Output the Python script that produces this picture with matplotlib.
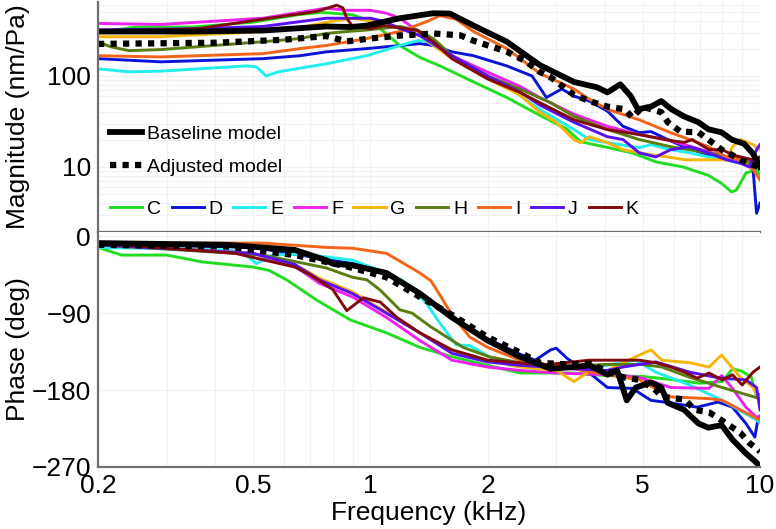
import matplotlib
matplotlib.use('Agg')
import matplotlib.pyplot as plt
from matplotlib.ticker import FixedLocator, NullFormatter, LogLocator

plt.rcParams['font.family'] = ['Liberation Sans', 'DejaVu Sans']

# ---- magnitude (nm/Pa) vs frequency (kHz) ----
base_mag_f = [0.2, 0.35, 0.53, 0.77, 0.89, 0.98, 1.19, 1.45, 1.6, 1.84, 2.24, 2.72, 3.33, 3.82, 4.06,
              4.38, 4.66, 4.86, 5.25, 5.58, 5.93, 6.38, 6.95, 7.37, 7.97, 8.46, 9.1, 9.6, 10]
base_mag = [308, 308, 316, 350, 345, 358, 431, 489, 485, 358, 238, 132, 86, 75, 66,
            81, 60, 43, 46, 53, 43, 36, 31, 26, 24, 20, 18, 14, 10]

adj_mag_f = [0.2, 0.4, 0.6, 0.77, 0.87, 1.0, 1.19, 1.45, 1.7, 1.84, 2.24, 2.5, 2.72, 2.9, 3.33, 3.65,
             4.06, 4.5, 4.7, 5.0, 5.58, 5.8, 6.25, 6.95, 7.37, 7.97, 8.46, 8.9, 9.6, 10]
adj_mag = [225, 232, 250, 275, 240, 258, 278, 293, 280, 244, 185, 146, 111, 97, 62, 53,
           46, 43, 35, 46, 40, 31, 24.5, 24, 20, 15.5, 13.6, 12, 10.5, 10]

c_mag_f = [0.2, 0.25, 0.35, 0.5, 0.65, 0.75, 0.9, 1.0, 1.08, 1.19, 1.34, 1.51, 1.84, 2.24, 2.72, 3.2,
           3.46, 3.9, 4.7, 5.4, 6.35, 7.37, 7.97, 8.46, 8.7, 9.0, 9.2, 9.8, 10]
c_mag = [300, 345, 345, 390, 470, 500, 470, 400, 310, 216, 160, 129, 86, 58, 37, 26,
         19, 17, 14.3, 11.4, 10, 8.1, 6.6, 5.3, 5.6, 7.2, 8.6, 9.3, 8.1]

d_mag_f = [0.2, 0.29, 0.53, 0.66, 0.77, 0.98, 1.19, 1.34, 1.45, 1.62, 1.84, 2.24, 2.6, 2.83, 3.1, 3.33,
           3.65, 4.06, 4.45, 4.9, 5.25, 5.8, 6.38, 7.1, 7.6, 8.2, 8.9, 9.2, 9.6, 9.8, 10]
d_mag = [155, 143, 155, 167, 184, 200, 216, 227, 216, 184, 167, 129, 100, 58, 72, 60,
         53, 41, 28, 23.8, 24.5, 20, 16.7, 14.3, 12.9, 12, 12.9, 12, 9.3, 3.1, 4]

e_mag_f = [0.2, 0.24, 0.29, 0.48, 0.51, 0.54, 0.58, 0.77, 0.98, 1.19, 1.32, 1.4, 1.57, 1.66, 1.84, 2.24,
           2.72, 3.33, 3.65, 4.06, 4.9, 5.25, 5.9, 6.6, 7.37, 8.2, 8.9, 9.6, 10]
e_mag = [120, 111, 113, 129, 126, 100, 111, 136, 167, 216, 244, 240, 176, 155, 120, 77,
         43, 25.8, 20, 18.5, 16.3, 17.6, 15.5, 14.3, 12.9, 12, 11, 11, 12]

f_mag_f = [0.2, 0.29, 0.53, 0.77, 0.87, 1.0, 1.1, 1.19, 1.34, 1.62, 2.0, 2.42, 2.72, 3.33, 4.06, 4.9,
           5.9, 7.37, 8.2, 8.9, 9.6, 10]
f_mag = [378, 368, 431, 556, 527, 527, 489, 431, 300, 167, 110, 77, 58, 38, 28, 22.7,
         19.5, 14.7, 12.9, 12, 12, 12.6]

g_mag_f = [0.2, 0.29, 0.53, 0.66, 0.8, 0.9, 1.1, 1.34, 1.62, 2.0, 2.42, 2.72, 3.0, 3.33, 3.46, 3.65,
           4.06, 4.45, 5.25, 5.8, 6.4, 7.4, 8.2, 8.5, 8.9, 9.2, 9.6, 10]
g_mag = [270, 270, 308, 340, 400, 431, 378, 278, 155, 93, 62, 40, 31, 20, 18.5, 21.5,
         18.5, 15.5, 13.6, 12.9, 12, 12, 12, 16.7, 20, 19, 17.6, 15.5]

h_mag_f = [0.2, 0.215, 0.24, 0.29, 0.53, 0.66, 0.77, 0.87, 0.98, 1.19, 1.32, 1.45, 1.62, 2.0, 2.42,
           2.9, 3.33, 4.06, 4.9, 5.9, 7.37, 8.9, 9.6, 10]
h_mag = [238, 210, 190, 195, 238, 258, 293, 308, 320, 350, 320, 258, 167, 100, 72,
         51, 36, 25.8, 20, 16.7, 14.3, 12, 11, 12]

i_mag_f = [0.2, 0.29, 0.53, 0.66, 0.77, 0.98, 1.19, 1.4, 1.51, 1.66, 1.84, 2.24, 2.72, 3.33, 3.65,
           4.06, 4.9, 5.9, 6.6, 7.37, 8.2, 8.9, 9.6, 10]
i_mag = [167, 162, 176, 200, 216, 258, 308, 398, 460, 420, 308, 200, 107, 72, 55.5,
         43, 33, 23.8, 20, 16.7, 12.9, 12, 9.3, 7.2]

j_mag_f = [0.2, 0.35, 0.53, 0.77, 0.9, 1.0, 1.08, 1.19, 1.34, 1.62, 2.0, 2.42, 2.72, 3.33, 4.06,
           4.45, 4.9, 5.4, 5.9, 6.6, 7.37, 8.2, 8.9, 9.4, 9.8, 10]
j_mag = [320, 330, 350, 431, 431, 431, 400, 333, 278, 167, 100, 67, 48, 31, 21.5,
         20, 14.3, 12.9, 15.5, 16.7, 14.3, 12, 11, 10, 15.5, 17.6]

k_mag_f = [0.2, 0.36, 0.55, 0.73, 0.82, 0.85, 0.87, 0.9, 1.0, 1.08, 1.32, 1.45, 1.62, 2.0, 2.42,
           2.72, 3.33, 4.06, 4.9, 5.9, 6.4, 6.7, 7.4, 8.0, 8.5, 8.9, 9.6, 10]
k_mag = [308, 330, 431, 513, 600, 560, 431, 350, 330, 358, 317, 238, 155, 93, 66,
         51, 33, 25.8, 22.7, 19.5, 18.6, 20, 15.5, 15.5, 13.6, 12.9, 12, 12.9]

# ---- phase (deg) vs frequency (kHz) ----
base_ph_f = [0.2, 0.43, 0.64, 0.77, 0.8, 0.9, 1.1, 1.34, 1.62, 2.0, 2.42, 2.72, 2.9, 3.33, 3.65, 4.06,
             4.3, 4.55, 4.8, 5.25, 5.58, 5.8, 6.38, 6.95, 7.37, 7.97, 8.5, 9.2, 9.8, 10]
base_ph = [-8, -10, -16, -28, -32, -34, -43, -67, -95, -122, -141, -150, -155, -153, -151, -162,
           -157, -192, -177, -171, -177, -195, -203, -219, -224, -221, -238, -254, -265, -270]

adj_ph_f = [0.2, 0.43, 0.64, 0.77, 0.9, 1.1, 1.34, 1.62, 2.0, 2.42, 2.72, 3.2, 3.65, 4.06, 4.45,
            4.9, 5.4, 5.6, 6.4, 6.8, 7.4, 8.2, 8.9, 9.4, 9.9, 10]
adj_ph = [-10, -12, -22, -30, -37, -48, -71, -92, -118, -136, -148, -150, -149, -158, -165,
          -168, -180, -188, -191, -203, -206, -219, -230, -242, -250, -252]

c_ph_f = [0.2, 0.23, 0.3, 0.37, 0.5, 0.55, 0.61, 0.73, 0.89, 1.1, 1.34, 1.62, 2.0, 2.42, 3.3, 4.0,
          5.0, 6.0, 7.0, 8.0, 8.5, 9.0, 9.5, 9.8, 10]
c_ph = [-13, -22, -22, -30, -36, -40, -51, -75, -98, -113, -130, -141, -151, -160, -160, -163,
        -164, -168, -172, -170, -155, -158, -165, -188, -185]

d_ph_f = [0.2, 0.5, 0.77, 0.9, 1.1, 1.34, 1.62, 2.0, 2.42, 2.65, 2.9, 3.0, 3.2, 3.65, 4.06, 4.7,
          5.25, 5.9, 6.9, 7.8, 8.5, 9.2, 9.7, 9.9, 10]
d_ph = [-9, -13, -27, -32, -42, -66, -94, -120, -138, -145, -133, -131, -143, -160, -177, -178,
        -192, -195, -200, -194, -200, -219, -235, -212, -215]

e_ph_f = [0.2, 0.43, 0.47, 0.51, 0.56, 0.64, 0.77, 0.9, 1.1, 1.2, 1.28, 1.4, 1.51, 1.66, 1.8, 2.02,
          2.28, 2.72, 3.33, 4.06, 4.8, 5.4, 6.6, 8.0, 9.8, 10]
e_ph = [-13, -16, -19, -32, -22, -21, -24, -28, -43, -51, -60, -80, -102, -127, -128, -141,
        -151, -155, -153, -151, -145, -159, -174, -192, -215, -218]

f_ph_f = [0.2, 0.5, 0.64, 0.74, 0.9, 1.1, 1.34, 1.62, 2.0, 2.42, 3.0, 4.06, 4.9, 5.9, 7.4, 7.97,
          8.5, 9.2, 9.8, 10]
f_ph = [-10, -20, -35, -55, -71, -95, -122, -145, -153, -157, -160, -162, -165, -177, -178, -163,
        -178, -200, -212, -210]

g_ph_f = [0.2, 0.5, 0.64, 0.74, 0.9, 1.1, 1.34, 1.62, 2.0, 2.42, 3.0, 3.33, 3.65, 4.06, 4.9, 5.25,
          5.6, 6.6, 7.4, 7.97, 8.9, 9.6, 10]
g_ph = [-10, -20, -33, -49, -65, -89, -113, -133, -145, -153, -157, -170, -158, -157, -139, -133,
        -145, -148, -153, -139, -165, -177, -192]

h_ph_f = [0.2, 0.53, 0.77, 0.9, 0.98, 1.06, 1.19, 1.28, 1.43, 1.73, 2.02, 2.42, 3.3, 4.0, 5.0, 5.6,
          6.6, 8.0, 10]
h_ph = [-10, -22, -37, -48, -51, -63, -86, -90, -106, -130, -141, -148, -152, -150, -150, -153,
        -165, -177, -190]

i_ph_f = [0.2, 0.53, 0.77, 0.9, 1.1, 1.2, 1.34, 1.43, 1.5, 1.62, 1.8, 2.0, 2.42, 3.3, 4.06, 4.9,
          5.9, 7.4, 8.0, 8.9, 9.8, 10]
i_ph = [-8, -8, -13, -14, -20, -30, -43, -52, -67, -92, -118, -130, -145, -155, -162, -168,
        -188, -190, -192, -203, -213, -215]

j_ph_f = [0.2, 0.5, 0.64, 0.74, 0.9, 1.1, 1.34, 1.62, 2.0, 2.42, 3.3, 4.06, 4.45, 5.4, 6.6, 7.9,
          9.2, 9.8, 10]
j_ph = [-10, -20, -33, -51, -67, -90, -113, -137, -147, -151, -155, -157, -153, -147, -159, -166,
        -168, -177, -203]

k_ph_f = [0.2, 0.45, 0.64, 0.7, 0.8, 0.87, 0.96, 1.06, 1.17, 1.34, 1.62, 2.0, 2.42, 2.72, 3.65,
          4.9, 5.4, 5.9, 6.4, 6.9, 7.4, 8.0, 8.5, 9.0, 9.6, 10]
k_ph = [-8, -20, -36, -45, -62, -87, -72, -77, -95, -113, -133, -145, -148, -151, -145,
        -145, -148, -153, -159, -166, -160, -168, -162, -174, -159, -153]

labels = ['C', 'D', 'E', 'F', 'G', 'H', 'I', 'J', 'K']
colors = ['#22dd22', '#0a14d8', '#22eeee', '#ee22ee', '#f5b50a', '#5a7d12', '#f26419', '#5a0ff0', '#800a0a']
mag_sets = [(c_mag_f, c_mag), (d_mag_f, d_mag), (e_mag_f, e_mag), (f_mag_f, f_mag), (g_mag_f, g_mag),
            (h_mag_f, h_mag), (i_mag_f, i_mag), (j_mag_f, j_mag), (k_mag_f, k_mag)]
ph_sets = [(c_ph_f, c_ph), (d_ph_f, d_ph), (e_ph_f, e_ph), (f_ph_f, f_ph), (g_ph_f, g_ph),
           (h_ph_f, h_ph), (i_ph_f, i_ph), (j_ph_f, j_ph), (k_ph_f, k_ph)]

W, H = 776, 529
fig = plt.figure(figsize=(W / 100, H / 100), dpi=100)
ax1 = fig.add_axes([98 / W, 1 - 232 / H, 662 / W, 230 / H])
ax2 = fig.add_axes([98 / W, 1 - 467 / H, 662 / W, 235 / H], sharex=ax1)

spine_col = '#707070'
grid_col = '#f1f1f1'
lw_col = 2.1

for lab, col, (mf, mv), (pf, pv) in zip(labels, colors, mag_sets, ph_sets):
    ax1.plot(mf, mv, color=col, lw=lw_col, label=lab)
    ax2.plot(pf, pv, color=col, lw=lw_col)

hb, = ax1.plot(base_mag_f, base_mag, color='black', lw=4.2, solid_joinstyle='round', label='Baseline model')
ha, = ax1.plot(adj_mag_f, adj_mag, color='black', lw=4.5, linestyle=(0, (1, 1)), label='Adjusted model')
ax2.plot(base_ph_f, base_ph, color='black', lw=4.2, solid_joinstyle='round')
ax2.plot(adj_ph_f, adj_ph, color='black', lw=4.5, linestyle=(0, (1, 1)))

for ax in (ax1, ax2):
    ax.set_xscale('log')
    ax.set_xlim(0.2, 10)
    ax.xaxis.set_major_locator(FixedLocator([0.2, 0.5, 1, 2, 5, 10]))
    ax.xaxis.set_minor_locator(FixedLocator([0.3, 0.4, 0.6, 0.7, 0.8, 0.9, 3, 4, 6, 7, 8, 9]))
    ax.xaxis.set_minor_formatter(NullFormatter())
    ax.grid(True, which='both', color=grid_col, lw=0.9)
    ax.set_axisbelow(True)
    ax.tick_params(which='both', length=0, labelsize=19, pad=5)
    ax.spines['right'].set_visible(False)
    ax.spines['top'].set_visible(False)
    for s in ('left', 'bottom'):
        ax.spines[s].set_color(spine_col)
        ax.spines[s].set_linewidth(1.6)

ax1.set_yscale('log')
ax1.set_ylim(1.93, 650)
ax1.yaxis.set_major_locator(FixedLocator([10, 100]))
ax1.yaxis.set_major_formatter(plt.FuncFormatter(lambda v, p: f'{v:g}'))
ax1.yaxis.set_minor_locator(LogLocator(base=10, subs=range(2, 10)))
ax1.yaxis.set_minor_formatter(NullFormatter())
ax1.tick_params(axis='x', labelbottom=False)
ax1.set_ylabel('Magnitude (nm/Pa)', fontsize=19)
ax1.yaxis.set_label_coords(-0.103, 0.5)

ax2.set_ylim(-270, 5)
ax2.yaxis.set_major_locator(FixedLocator([0, -90, -180, -270]))
ax2.xaxis.set_major_formatter(plt.FuncFormatter(lambda v, p: f'{v:g}'))
ax2.set_ylabel('Phase (deg)', fontsize=19)
ax2.yaxis.set_label_coords(-0.103, 0.5)
ax2.set_xlabel('Frequency (kHz)', fontsize=19, labelpad=2)

leg1 = ax1.legend(handles=[hb, ha], loc='center left', bbox_to_anchor=(0.018, 0.354),
                  frameon=False, fontsize=14, handlelength=1.65, handletextpad=0.25,
                  labelspacing=0.8, borderpad=0, borderaxespad=0)
ax1.add_artist(leg1)
color_handles = ax1.get_lines()[:9]
ax1.legend(handles=color_handles, loc='center left', bbox_to_anchor=(0.018, 0.1), ncol=9,
           frameon=False, fontsize=14, handlelength=1.65, handletextpad=0.25,
           columnspacing=0.55, borderpad=0, borderaxespad=0)

fig.savefig('out.png', dpi=100)
